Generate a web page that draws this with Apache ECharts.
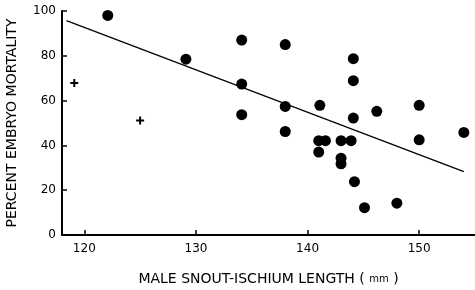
<!DOCTYPE html>
<html>
<head>
<meta charset="utf-8">
<script src="https://cdn.jsdelivr.net/npm/echarts@6/dist/echarts.min.js"></script>
<style>html,body{margin:0;padding:0;background:#fff}#c{width:475px;height:290px}</style>
</head>
<body>
<div id="c"></div>
<script>
// Data
var dotX = [122.1,129.1,134.1,134.1,134.1,138.0,138.0,138.0,141.1,141.0,141.6,141.0,143.0,143.9,143.0,143.0,144.1,144.1,144.1,144.2,145.1,146.2,148.0,150.0,150.0,154.0];
var dotY = [98.0,78.5,87.0,67.4,53.7,85.0,57.4,46.2,57.9,42.1,42.1,37.0,42.1,42.1,34.3,31.8,78.7,68.9,52.2,23.8,12.2,55.2,14.2,57.9,42.5,45.8];
var plusX = [119.1,125.0];
var plusY = [67.9,51.1];
var lineX = [118.4,154.0];
var lineY = [95.7,28.3];
var xTicks = [120,130,140,150];
var yTicks = [0,20,40,60,80,100];

function pairs(xs, ys){ return xs.map(function(v,i){ return [v, ys[i]]; }); }

var font = 'DejaVu Sans';
var chart = echarts.init(document.getElementById('c'), null, {renderer:'canvas'});
chart.setOption({
  animation:false,
  backgroundColor:'#fff',
  grid:{left:62, right:0, top:11, bottom:55, containLabel:false, outerBoundsMode:'none'},
  xAxis:{
    type:'value', min:118, max:155,
    axisLine:{show:true, onZero:false, lineStyle:{color:'#000', width:2}},
    axisTick:{show:true, inside:true, length:5, customValues:xTicks, lineStyle:{color:'#000', width:1.5}},
    axisLabel:{customValues:xTicks, color:'#000', fontFamily:font, fontSize:12, margin:8},
    splitLine:{show:false},
    name:'MALE SNOUT-ISCHIUM LENGTH ( {s|mm} )',
    nameLocation:'middle', nameGap:37,
    nameTextStyle:{color:'#000', fontFamily:font, fontSize:14, rich:{s:{fontSize:10, fontFamily:font, color:'#000'}}}
  },
  yAxis:{
    type:'value', min:0, max:100, interval:20,
    axisLine:{show:true, onZero:false, lineStyle:{color:'#000', width:2}},
    axisTick:{show:true, inside:true, length:5, lineStyle:{color:'#000', width:1.5}},
    axisLabel:{color:'#000', fontFamily:font, fontSize:12, margin:6},
    splitLine:{show:false},
    name:'PERCENT EMBRYO MORTALITY',
    nameLocation:'middle', nameRotate:90, nameGap:43,
    nameTextStyle:{color:'#000', fontFamily:font, fontSize:14}
  },
  series:[
    {type:'line', data:pairs(lineX,lineY), symbol:'none', lineStyle:{color:'#000', width:1.2}, z:1},
    {type:'scatter', data:pairs(dotX,dotY), symbol:'circle', symbolSize:11, itemStyle:{color:'#000', opacity:1}, z:3},
    {type:'scatter', data:pairs(plusX,plusY), symbol:'path://M3,0h2v3h3v2h-3v3h-2v-3h-3v-2h3z', symbolSize:8, itemStyle:{color:'#000', opacity:1}, z:3}
  ]
});
</script>
</body>
</html>
